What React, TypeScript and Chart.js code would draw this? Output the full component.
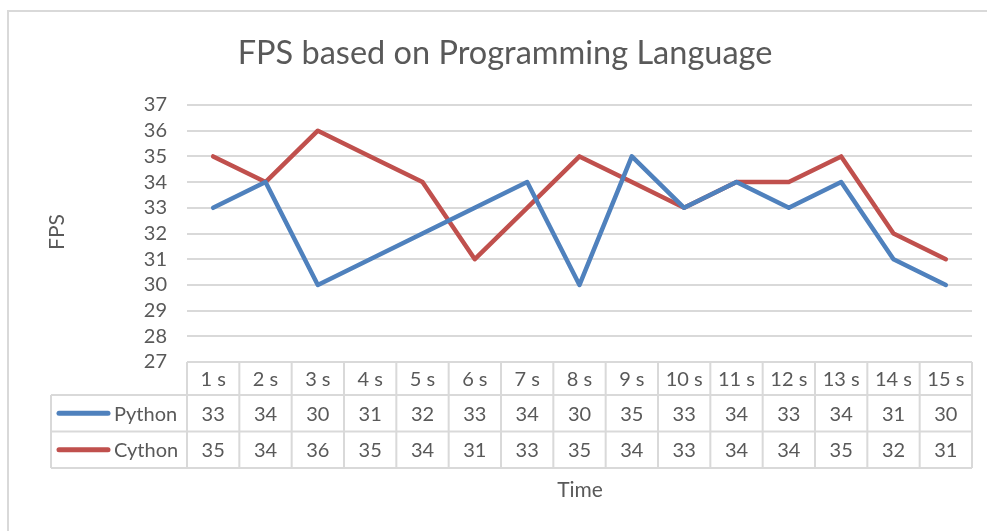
import React, { useEffect, useRef } from "react";
import { Chart, registerables } from "chart.js";

Chart.register(...registerables);

const categories = ["1 s", "2 s", "3 s", "4 s", "5 s", "6 s", "7 s", "8 s", "9 s", "10 s", "11 s", "12 s", "13 s", "14 s", "15 s"];
const pythonValues = [33, 34, 30, 31, 32, 33, 34, 30, 35, 33, 34, 33, 34, 31, 30];
const cythonValues = [35, 34, 36, 35, 34, 31, 33, 35, 34, 33, 34, 34, 35, 32, 31];
const seriesNames = ["Python", "Cython"];
const seriesColors = ["#4f81bd", "#c0504d"];
const yTicks = { min: 27, max: 37, step: 1 };
const chartTitle = "FPS based on Programming Language";
const yTitle = "FPS";
const xTitle = "Time";

const FONT = "Lato, 'Open Sans', sans-serif";
const TEXT = "#595959";
const GRID = "#d9d9d9";

const tablePlugin = {
  id: "excelTable",
  afterDraw(chart: any) {
    const ctx = chart.ctx;
    const area = chart.chartArea;
    const xs = chart.scales.x;
    const left = area.left;
    const right = area.right;
    const top = area.bottom;
    const headerH = 33;
    const rowH = 36.5;
    const tableLeft = 51;
    const n = categories.length;
    const colW = (right - left) / n;
    ctx.save();
    // outer frame
    ctx.strokeStyle = GRID;
    ctx.lineWidth = 2;
    ctx.beginPath();
    ctx.moveTo(8, 540);
    ctx.lineTo(8, 11);
    ctx.lineTo(1000, 11);
    ctx.stroke();

    // title
    ctx.fillStyle = TEXT;
    ctx.font = `32.5px ${FONT}`;
    ctx.textAlign = "center";
    ctx.textBaseline = "middle";
    ctx.fillText(chartTitle, 505, 54);

    // y title
    ctx.font = `21px ${FONT}`;
    ctx.save();
    ctx.translate(57, 232);
    ctx.rotate(-Math.PI / 2);
    ctx.fillText(yTitle, 0, 0);
    ctx.restore();

    // x title
    ctx.fillText(xTitle, 580, 490);

    // table grid
    ctx.strokeStyle = GRID;
    ctx.lineWidth = 2;
    ctx.beginPath();
    const y1 = top + headerH;
    const y2 = y1 + rowH;
    const y3 = y2 + rowH;
    ctx.moveTo(left, top); ctx.lineTo(right, top);
    ctx.moveTo(tableLeft, y1); ctx.lineTo(right, y1);
    ctx.moveTo(tableLeft, y2); ctx.lineTo(right, y2);
    ctx.moveTo(tableLeft, y3); ctx.lineTo(right, y3);
    ctx.moveTo(tableLeft, y1); ctx.lineTo(tableLeft, y3);
    for (let i = 0; i <= n; i++) {
      const x = left + i * colW;
      ctx.moveTo(x, top); ctx.lineTo(x, y3);
    }
    ctx.stroke();

    // header labels
    ctx.fillStyle = TEXT;
    ctx.font = `20px ${FONT}`;
    ctx.textAlign = "center";
    categories.forEach((c, i) => {
      ctx.fillText(c, xs.getPixelForValue(i), top + headerH / 2 + 1);
    });

    const rows = [pythonValues, cythonValues];
    rows.forEach((vals, r) => {
      const cy = y1 + rowH * r + rowH / 2 + 1;
      ctx.strokeStyle = seriesColors[r];
      ctx.lineWidth = 5;
      ctx.lineCap = "round";
      ctx.beginPath();
      ctx.moveTo(59, cy - 1);
      ctx.lineTo(108, cy - 1);
      ctx.stroke();
      ctx.fillStyle = TEXT;
      ctx.textAlign = "left";
      ctx.fillText(seriesNames[r], 114, cy);
      ctx.textAlign = "center";
      vals.forEach((v, i) => {
        ctx.fillText(String(v), xs.getPixelForValue(i), cy);
      });
    });
    ctx.restore();
  },
};

export default function App() {
  const ref = useRef<HTMLCanvasElement | null>(null);
  useEffect(() => {
    if (!ref.current) return;
    const chart = new Chart(ref.current, {
      type: "line",
      data: {
        labels: categories,
        datasets: [
          { label: seriesNames[0], data: pythonValues, borderColor: seriesColors[0], backgroundColor: seriesColors[0] },
          { label: seriesNames[1], data: cythonValues, borderColor: seriesColors[1], backgroundColor: seriesColors[1] },
        ].map((d) => ({
          ...d,
          borderWidth: 4.5,
          pointRadius: 0,
          tension: 0,
          borderJoinStyle: "round" as const,
          borderCapStyle: "round" as const,
        })),
      },
      options: {
        animation: false,
        responsive: false,
        layout: { padding: { top: 105, left: 0, right: 15, bottom: 169 } },
        plugins: { legend: { display: false }, tooltip: { enabled: false }, title: { display: false } },
        scales: {
          x: { display: false, offset: true },
          y: {
            min: yTicks.min,
            max: yTicks.max,
            ticks: { stepSize: yTicks.step, autoSkip: false, color: TEXT, font: { family: FONT, size: 20 }, padding: 20 },
            grid: { color: GRID, lineWidth: 2, drawTicks: false },
            border: { display: false },
            afterFit: (s: any) => { s.width = 187; },
          },
        },
      },
      plugins: [tablePlugin],
    });
    return () => chart.destroy();
  }, []);
  return (
    <div style={{ position: "fixed", left: 0, top: 0, width: 987, height: 531, background: "#fff" }}>
      <canvas ref={ref} width={987} height={531} style={{ display: "block" }} />
    </div>
  );
}
